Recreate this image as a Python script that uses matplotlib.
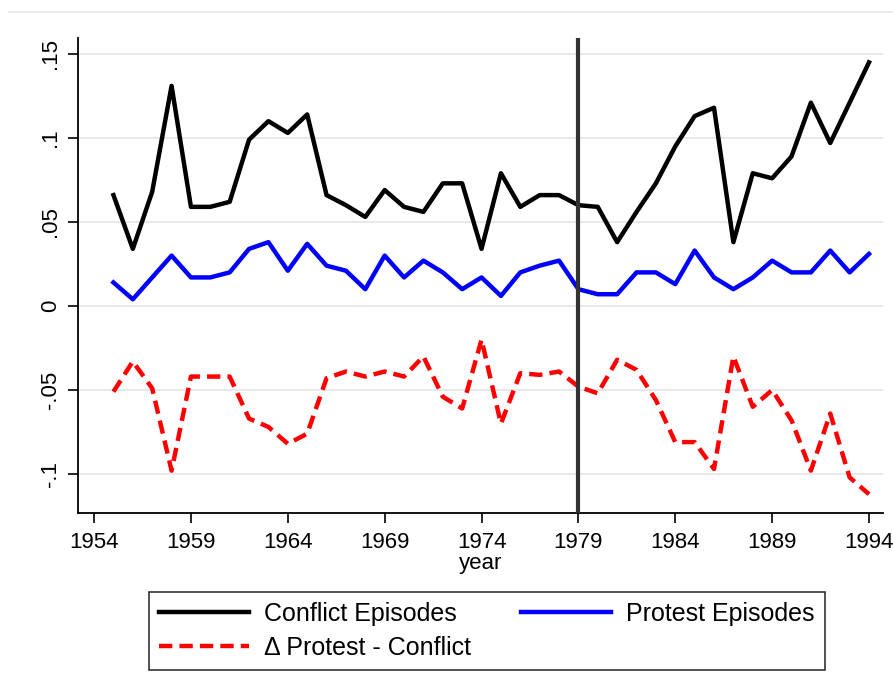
import matplotlib
matplotlib.use("Agg")
import matplotlib.pyplot as plt
from matplotlib.lines import Line2D

plt.rcParams['font.family'] = ['Liberation Sans', 'DejaVu Sans']

# data
years = list(range(1955, 1995))
conflict = [0.066, 0.034, 0.068, 0.131, 0.059, 0.059, 0.062, 0.099, 0.110, 0.103,
            0.114, 0.066, 0.060, 0.053, 0.069, 0.059, 0.056, 0.073, 0.073, 0.034,
            0.079, 0.059, 0.066, 0.066, 0.060, 0.059, 0.038, 0.056, 0.073, 0.095,
            0.113, 0.118, 0.038, 0.079, 0.076, 0.089, 0.121, 0.097, 0.121, 0.145]
protest = [0.014, 0.004, 0.017, 0.030, 0.017, 0.017, 0.020, 0.034, 0.038, 0.021,
           0.037, 0.024, 0.021, 0.010, 0.030, 0.017, 0.027, 0.020, 0.010, 0.017,
           0.006, 0.020, 0.024, 0.027, 0.010, 0.007, 0.007, 0.020, 0.020, 0.013,
           0.033, 0.017, 0.010, 0.017, 0.027, 0.020, 0.020, 0.033, 0.020, 0.031]
delta = [-0.051, -0.033, -0.049, -0.098, -0.042, -0.042, -0.042, -0.067, -0.072, -0.082,
         -0.076, -0.043, -0.039, -0.042, -0.039, -0.042, -0.030, -0.054, -0.061, -0.020,
         -0.070, -0.040, -0.041, -0.039, -0.048, -0.052, -0.032, -0.038, -0.056, -0.081,
         -0.081, -0.097, -0.030, -0.060, -0.050, -0.068, -0.098, -0.064, -0.102, -0.112]

xticks = [1954, 1959, 1964, 1969, 1974, 1979, 1984, 1989, 1994]
yticks = [0.15, 0.1, 0.05, 0, -0.05, -0.1]
ylabels = ['.15', '.1', '.05', '0', '-.05', '-.1']
break_year = 1979

fig = plt.figure(figsize=(8.93, 6.95), dpi=100)
ax = fig.add_axes([78/893, 1 - 513/695, (883-78)/893, (513-38)/695])

ax.plot(years, conflict, color='black', lw=3.2, label='Conflict Episodes', zorder=3)
ax.plot(years, protest, color='#0000ff', lw=3.2, label='Protest Episodes', zorder=3)
ax.plot(years, delta, color='#ff0000', lw=3.2, ls=(0, (3, 1.6)),
        label='Δ Protest - Conflict', zorder=3)
ax.axvline(break_year, color='#333333', lw=3, zorder=4)

ax.set_xlim(1953.17, 1994 + (883-869)/19.37)
ax.set_ylim(-0.1232, 0.1595)
ax.set_xticks(xticks)
ax.set_yticks(yticks)
ax.set_yticklabels(ylabels, rotation=90, va='center')
ax.tick_params(axis='both', direction='out', length=7, width=1.2, labelsize=16, pad=5)
ax.tick_params(axis='x', pad=7)
ax.grid(axis='y', color='#e6e6e6', lw=1.3, zorder=0)
ax.set_xlabel('year', fontsize=16, labelpad=0)

for s in ['top', 'right']:
    ax.spines[s].set_visible(False)
for s in ['left', 'bottom']:
    ax.spines[s].set_linewidth(1.3)

# faint border line at top of graph region
fig.add_artist(Line2D([9/893, 1], [1 - 12/695, 1 - 12/695], color='#e8e8e8', lw=1.3))

# column-wise fill: conflict, delta | protest
h, l = ax.get_legend_handles_labels()
leg = fig.legend([h[0], h[2], h[1]], [l[0], l[2], l[1]], ncol=2,
                 loc='upper center', bbox_to_anchor=(487/893, 1 - 592/695),
                 fontsize=18, frameon=True, fancybox=False, edgecolor='black',
                 handlelength=3.6, handletextpad=0.6, columnspacing=2.0,
                 labelspacing=0.4, borderpad=0.4, borderaxespad=0)
leg.get_frame().set_linewidth(1.2)

fig.savefig('out.png', dpi=100)
